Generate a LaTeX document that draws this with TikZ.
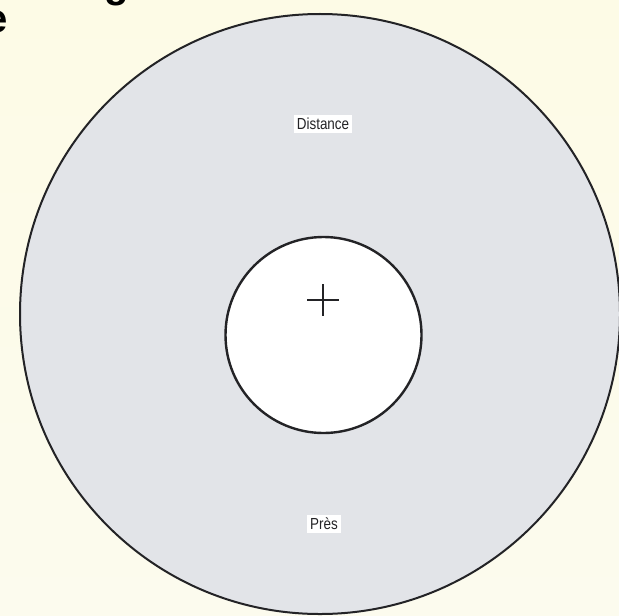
\documentclass[tikz,border=0pt]{standalone}
\usepackage{fontspec}
\setmainfont{Liberation Sans}
\newfontfamily\labelfont[FakeStretch=0.84]{Liberation Sans}
\definecolor{bgcream}{RGB}{253,251,230}
\definecolor{bgcreamlight}{RGB}{252,251,238}
\definecolor{fieldgray}{RGB}{226,228,232}
\definecolor{inkline}{RGB}{35,35,38}
\tikzset{
  zonelabel/.style={fill=white,inner sep=1.5pt,font=\labelfont\fontsize{8}{9}\selectfont,text=inkline},
  titlepart/.style={inner sep=0pt,font=\bfseries\fontsize{20}{22}\selectfont,text=black}
}

\begin{document}
\begin{tikzpicture}[x=.5pt,y=-.5pt]
\useasboundingbox (0,0) rectangle (619,615);
\clip (0,0) rectangle (619,615);
\shade[top color=bgcream,bottom color=bgcreamlight] (0,0) rectangle (619,615);
% cut-off title letters
\node[titlepart,anchor=base east] (titleg) at (129,-2) {g};
\node[titlepart,anchor=base east] (titlee) at (8,33) {e};
% visual field
\draw[line width=1pt,draw=inkline,fill=fieldgray] (320,314) circle (300);
\draw[line width=1.2pt,draw=inkline,fill=white] (323.5,335) circle (98);
\draw[line width=.9pt,draw=inkline] (307,300) -- (339,300) (323,284) -- (323,316);
\node[zonelabel] (distance) at (323,124) {Distance};
\node[zonelabel] (pres) at (324,524) {Près};
\end{tikzpicture}
\end{document}
